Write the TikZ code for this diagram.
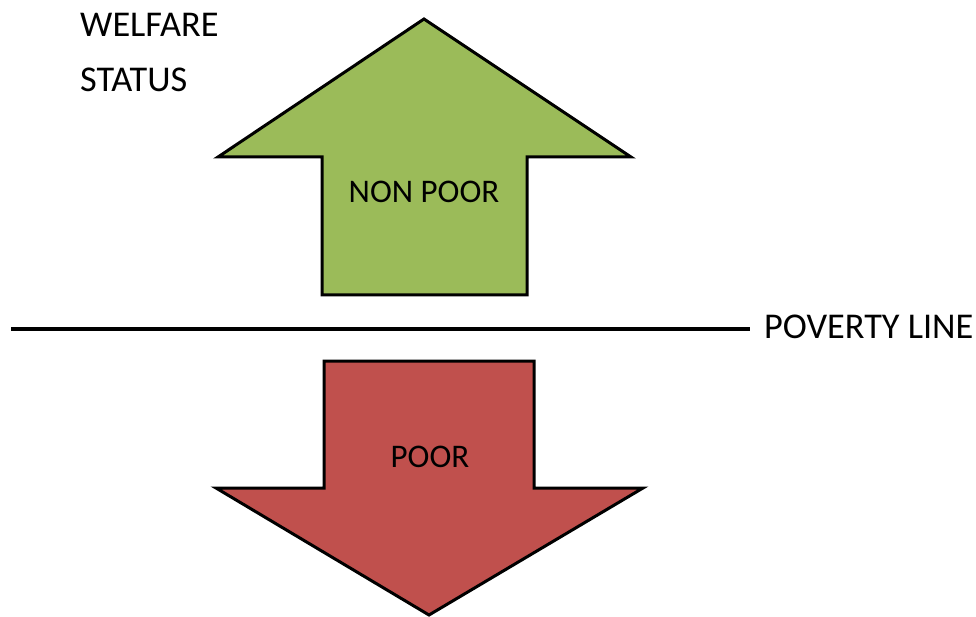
\documentclass[tikz,border=0pt]{standalone}
\usepackage{fontspec}
\setmainfont{Carlito}
\definecolor{nonpoorgreen}{HTML}{9BBB59}
\definecolor{poorred}{HTML}{C0504D}

\begin{document}
\begin{tikzpicture}[x=1pt, y=-1pt,
    arrowshape/.style={draw=black, line width=3pt, line join=miter},
    biglabel/.style={inner sep=0pt, font=\fontsize{36.3}{42}\selectfont},
    arrowlabel/.style={inner sep=0pt, font=\fontsize{33}{38}\selectfont}]
            \useasboundingbox (0,0) rectangle (976,617);

            % Define arrows
            \draw[arrowshape, fill=nonpoorgreen] (424,19) -- (631,157) -- (527,157) -- (527,295)
                -- (322,295) -- (322,157) -- (218,157) -- cycle;
            \draw[arrowshape, fill=poorred] (324,361) -- (534,361) -- (534,488) -- (643,488)
                -- (429,615) -- (216,488) -- (324,488) -- cycle;

            % Define labels
            \node[biglabel, anchor=base west] (welfare) at (80,37) {WELFARE};
            \node[biglabel, anchor=base west] (status) at (80,92) {STATUS};
            \node[arrowlabel] (nonpoor) at (424,192) {NON POOR};
            \node[arrowlabel] (poor) at (430,457) {POOR};
            \node[biglabel, anchor=west] (povline) at (764,327) {POVERTY LINE};

            % Draw poverty line
            \coordinate (lineL) at (11,329);
            \draw[line width=4pt] (lineL) -- ([xshift=-14pt]povline.west |- lineL);
\end{tikzpicture}
\end{document}
